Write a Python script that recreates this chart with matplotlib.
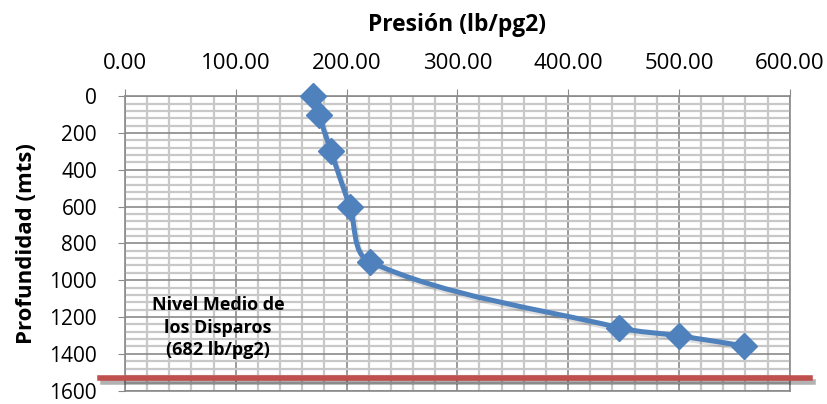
import matplotlib
matplotlib.use("Agg")
import matplotlib.pyplot as plt
from matplotlib.path import Path
from matplotlib.patches import PathPatch
from matplotlib.ticker import MultipleLocator, FormatStrFormatter
import matplotlib.patheffects as pe
import numpy as np

plt.rcParams["font.family"] = ["Open Sans", "DejaVu Sans"]

# data
presion = [170, 175, 186, 203, 221, 446, 500, 559]
profundidad = [0, 100, 300, 600, 900, 1258, 1302, 1357]
nivel_disparos = 1530
nota = "Nivel Medio de\nlos Disparos\n(682 lb/pg2)"

BLUE = "#4F81BD"
RED = "#C0504D"

# axes size in pixels, used to smooth the line in screen proportions
SX, SY = 665 / 600, 297 / 1600


def smooth_path(xs, ys, k=1.0):
    # Excel-like smooth line: cubic Bezier segments through the points
    p = np.column_stack([np.asarray(xs) * SX, np.asarray(ys) * SY]).astype(float)
    n = len(p)
    tang = []
    for i in range(n):
        a = p[max(i - 1, 0)]
        b = p[min(i + 1, n - 1)]
        d = b - a
        tang.append(d / np.hypot(*d))
    verts = [p[0]]
    codes = [Path.MOVETO]
    for i in range(n - 1):
        L = np.hypot(*(p[i + 1] - p[i])) / 3 * k
        verts += [p[i] + tang[i] * L, p[i + 1] - tang[i + 1] * L, p[i + 1]]
        codes += [Path.CURVE4] * 3
    verts = np.array(verts) / [SX, SY]
    return Path(verts, codes)


fig = plt.figure(figsize=(8.27, 4.04), dpi=100)
ax = fig.add_axes([0.151, 0.033, 0.804, 0.729])

ax.set_xlim(0, 600)
ax.set_ylim(1600, 0)
ax.xaxis.set_major_locator(MultipleLocator(100))
ax.xaxis.set_minor_locator(MultipleLocator(20))
ax.yaxis.set_major_locator(MultipleLocator(200))
ax.yaxis.set_minor_locator(MultipleLocator(40))
ax.xaxis.set_major_formatter(FormatStrFormatter("%.2f"))
ax.xaxis.tick_top()
ax.xaxis.set_label_position("top")

ax.grid(which="minor", color="#C8C8C8", lw=1.6, zorder=0)
ax.grid(which="major", color="#8A8A8A", lw=1.2, zorder=0)
ax.set_axisbelow(True)
for s in ax.spines.values():
    s.set_color("#8A8A8A")
    s.set_linewidth(1.2)

ax.tick_params(which="major", length=5, color="#8A8A8A")
ax.tick_params(axis="x", pad=11, labelsize=16)
ax.tick_params(axis="y", pad=15, labelsize=15)
ax.tick_params(which="minor", length=0)

ax.set_xlabel("Presión (lb/pg2)", fontsize=16.5, fontweight="bold", labelpad=16)
ax.set_ylabel("Profundidad (mts)", fontsize=16, fontweight="bold", labelpad=9)

shadow = [pe.SimpleLineShadow(offset=(1.5, -2), alpha=0.12), pe.Normal()]
patch = PathPatch(smooth_path(presion, profundidad), facecolor="none",
                  edgecolor=BLUE, lw=3.6, zorder=3, path_effects=shadow)
ax.add_patch(patch)
ax.plot(presion, profundidad, ls="none", marker="D", ms=13, color=BLUE,
        zorder=4, clip_on=False)

ax.plot([-22, 618], [nivel_disparos, nivel_disparos], color=RED, lw=4,
        clip_on=False, zorder=5,
        path_effects=[pe.SimpleLineShadow(offset=(2, -3), alpha=0.3), pe.Normal()])

ax.text(84, 1257, nota, ha="center", va="center", fontsize=13,
        fontweight="bold", linespacing=1.35, zorder=6)

fig.savefig("out.png", dpi=100)
